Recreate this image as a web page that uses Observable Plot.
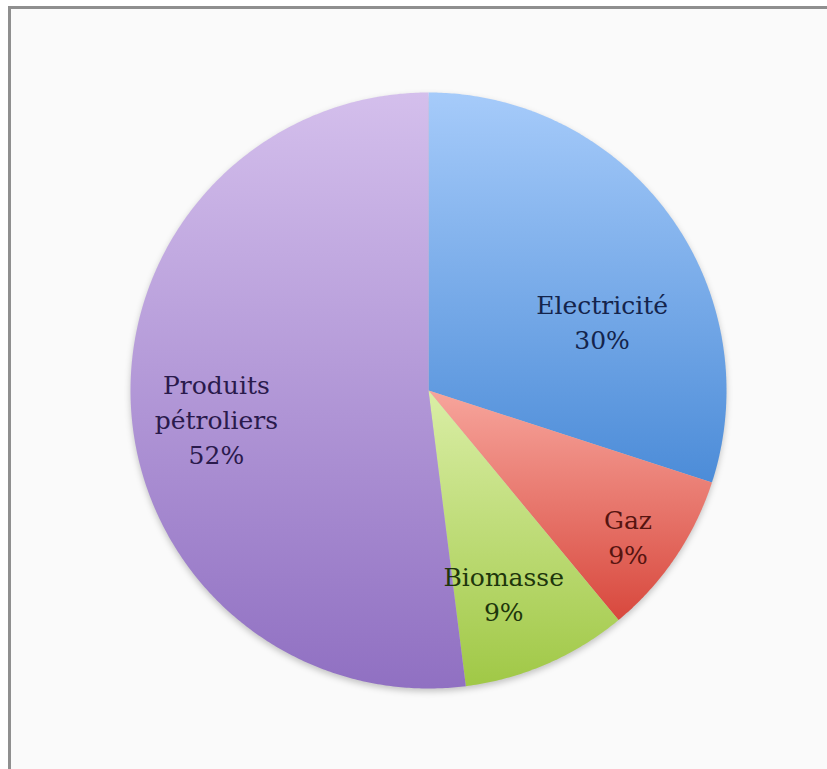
<!DOCTYPE html>
<html>
<head>
<meta charset="utf-8">
<script src="https://cdn.jsdelivr.net/npm/d3@7"></script>
<script src="https://cdn.jsdelivr.net/npm/@observablehq/plot@0.6"></script>
<style>
  html, body { margin: 0; padding: 0; background: #ffffff; overflow: hidden; }
  #frame { position: absolute; left: 8px; top: 6px; width: 840px; height: 790px;
           border-top: 3px solid #8f8f8f; border-left: 3px solid #8f8f8f; background: #fafafa; }
  #chart { position: absolute; left: 0; top: 0; }
</style>
</head>
<body>
<div id="frame"></div>
<div id="chart"></div>
<script>
// ---- data ----
const categories = ["Electricité", "Gaz", "Biomasse", "Produits pétroliers"];
const values = [30, 9, 9, 52];
const percentLabels = ["30%", "9%", "9%", "52%"];
const nameLabels = ["Electricité", "Gaz", "Biomasse", "Produits\npétroliers"];

// ---- styles ----
const gradTop = ["#a6cbfa", "#f7a59c", "#daeea6", "#d4bfec"];
const gradBottom = ["#4c8cd8", "#d8483d", "#a0c846", "#9070c2"];
const textColors = ["#14244c", "#561410", "#1e360c", "#2a1a4c"];
const labelNudge = [[0, 56], [22, 24], [-10, 5], [2, 14]];

const W = 827, H = 769, CX = 428, CY = 390, R = 298;

const arcs = d3.pie().sort(null).value(d => d)(values);

// slice outlines in unit data space (radius 1), angle 0 at top, clockwise
const slicePoints = [];
arcs.forEach((a, i) => {
  const fill = `url(#grad${i})`;
  slicePoints.push({x: 0, y: 0, key: categories[i], fill});
  const n = Math.max(2, Math.ceil((a.endAngle - a.startAngle) / (Math.PI / 360)));
  for (let j = 0; j <= n; j++) {
    const t = a.startAngle + (a.endAngle - a.startAngle) * j / n;
    slicePoints.push({x: Math.sin(t), y: Math.cos(t), key: categories[i], fill});
  }
});

const labelData = arcs.map((a, i) => {
  const m = (a.startAngle + a.endAngle) / 2;
  return {x: 0.72 * Math.sin(m), y: 0.72 * Math.cos(m),
          text: nameLabels[i] + "\n" + percentLabels[i], i};
});

const textMarks = labelData.map((d, i) => Plot.text([d], {
  x: "x", y: "y", text: "text",
  fill: textColors[i],
  fontSize: 25,
  fontFamily: "DejaVu Serif",
  lineHeight: 1.4,
  dx: labelNudge[i][0], dy: labelNudge[i][1]
}));

const chart = Plot.plot({
  width: W, height: H,
  margin: 0,
  x: {domain: [-CX / R, (W - CX) / R], axis: null},
  y: {domain: [-(H - CY) / R, CY / R], axis: null},
  color: {type: "identity"},
  style: {background: "transparent", overflow: "visible"},
  marks: [
    Plot.line(slicePoints, {x: "x", y: "y", z: "key", fill: "fill", stroke: "none"}),
    ...textMarks
  ]
});

// gradient definitions
const svg = d3.select(chart);
const defs = svg.insert("defs", ":first-child");
gradTop.forEach((c, i) => {
  const g = defs.append("linearGradient").attr("id", `grad${i}`)
    .attr("x1", 0).attr("y1", 0).attr("x2", 0).attr("y2", 1);
  g.append("stop").attr("offset", "0%").attr("stop-color", c);
  g.append("stop").attr("offset", "100%").attr("stop-color", gradBottom[i]);
});
svg.select('g[aria-label="line"]').style("filter", "drop-shadow(0px 3px 3px rgba(0,0,0,0.22))");

document.getElementById("chart").appendChild(chart);
</script>
</body>
</html>
